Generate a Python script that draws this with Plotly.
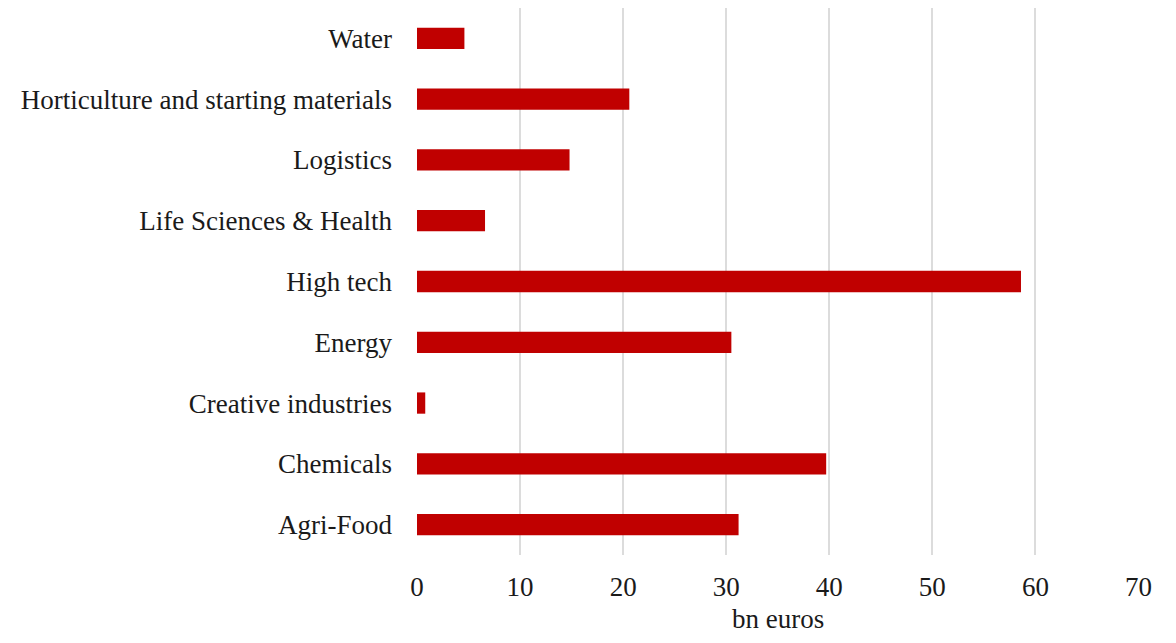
import plotly.graph_objects as go

sectores = ["Agri-Food", "Chemicals", "Creative industries", "Energy", "High tech",
            "Life Sciences & Health", "Logistics", "Horticulture and starting materials", "Water"]
valores = [31.2, 39.7, 0.8, 30.5, 58.6, 6.6, 14.8, 20.6, 4.6]
ticks_x = [0, 10, 20, 30, 40, 50, 60, 70]

fuente = "Liberation Serif, Times New Roman, serif"

fig = go.Figure(go.Bar(
    x=valores, y=sectores, orientation="h",
    marker=dict(color="#C00000", line=dict(width=0)),
    width=0.35,
))

# la página tiene 8px de margen en el body, por eso 1160x627
fig.update_layout(
    width=1160, height=627,
    paper_bgcolor="white", plot_bgcolor="white",
    margin=dict(l=409, r=29, t=0, b=80, autoexpand=False),
    font=dict(family=fuente, size=27, color="#1a1a1a"),
    showlegend=False,
    xaxis=dict(
        range=[0, 70.05], tickvals=ticks_x,
        showgrid=True, gridcolor="#dcdcdc", gridwidth=1.5,
        zeroline=False, showline=False,
        ticklabelstandoff=13, automargin=False,
    ),
    yaxis=dict(
        showgrid=False, zeroline=False, showline=False,
        ticklabelstandoff=24, automargin=False,
    ),
)

# título del eje x como anotación, para poder bajarlo
fig.add_annotation(
    text="bn euros", xref="paper", yref="paper", x=0.5, y=0,
    yanchor="middle", yshift=-64, showarrow=False,
    font=dict(family=fuente, size=27, color="#1a1a1a"),
)

fig.write_html("out.html")
